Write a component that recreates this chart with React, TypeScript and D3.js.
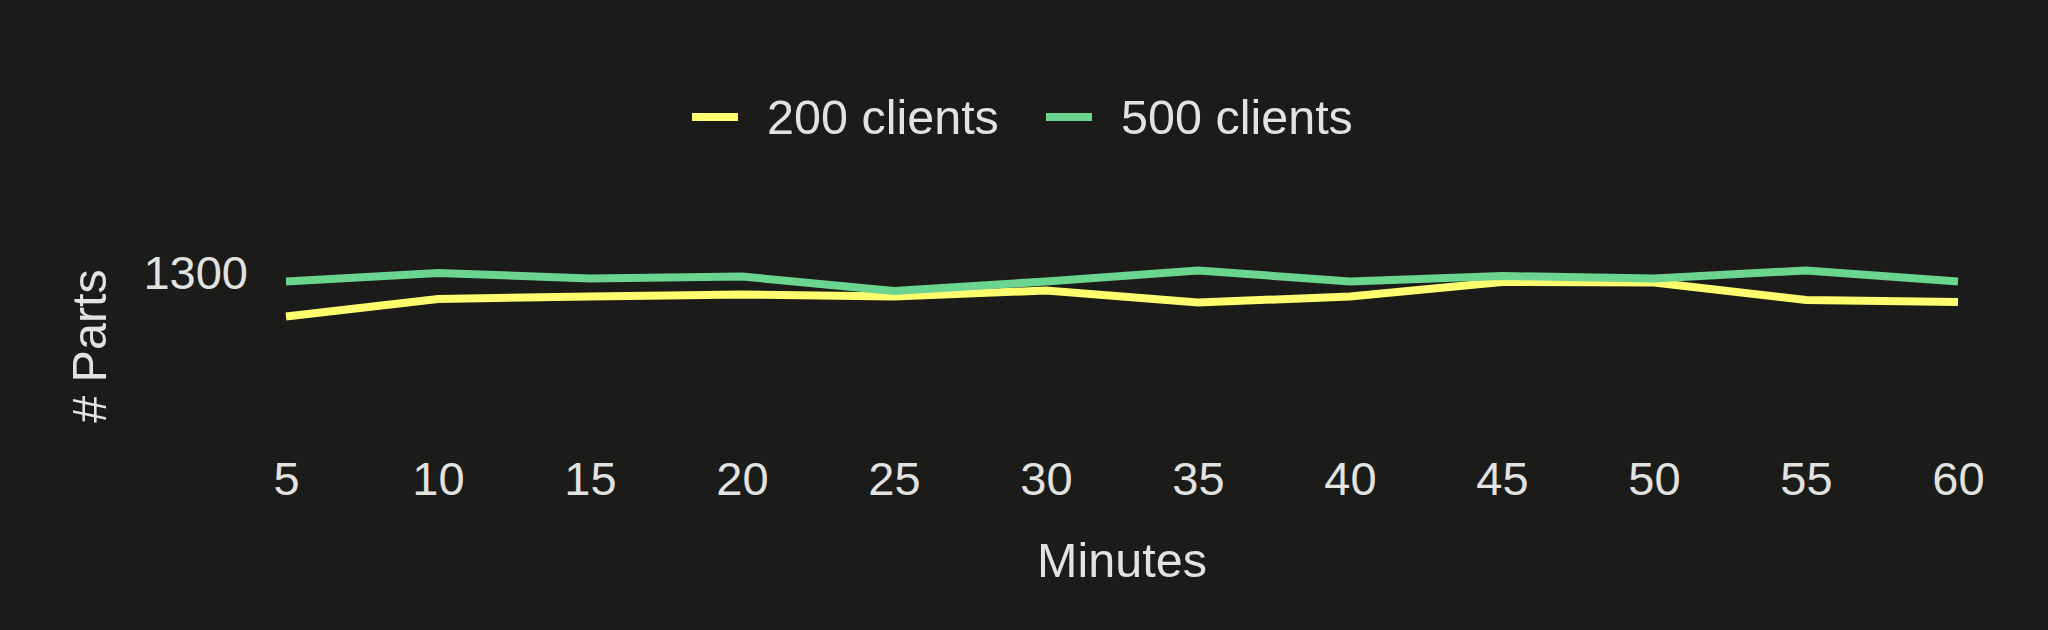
import React, { useEffect, useRef } from 'react';
import * as d3 from 'd3';

const minutes = [5, 10, 15, 20, 25, 30, 35, 40, 45, 50, 55, 60];
const clients200 = [1211, 1246, 1251, 1255, 1251, 1263, 1239, 1251, 1280, 1279, 1244, 1240];
const clients500 = [1281, 1298, 1287, 1291, 1262, 1281, 1303, 1281, 1292, 1287, 1303, 1281];
const yTicks = [1300];
const seriesNames = ['200 clients', '500 clients'];
const seriesColors = ['#fdfd6e', '#6bd48f'];

const WIDTH = 2048;
const HEIGHT = 630;

export default function App() {
  const svgRef = useRef<SVGSVGElement>(null);

  useEffect(() => {
    document.body.style.margin = '0';
    document.body.style.background = '#1b1b19';

    const svg = d3.select(svgRef.current);
    svg.selectAll('*').remove();

    const font = '"Liberation Sans", Arial, sans-serif';
    const textColor = '#e2e2e0';
    const tickSize = 47;
    const labelSize = 48.5;

    svg.append('rect')
      .attr('width', WIDTH)
      .attr('height', HEIGHT)
      .attr('fill', '#1b1b19');

    // Scales
    const xScale = d3.scaleLinear()
      .domain([5, 60])
      .range([286, 1958]);

    const yScale = d3.scaleLinear()
      .domain([1100, 1400])
      .range([372, 222]);

    const series = [clients200, clients500];

    const line = d3.line<number>()
      .x((_, i) => xScale(minutes[i]))
      .y(d => yScale(d));

    series.forEach((values, i) => {
      svg.append('path')
        .datum(values)
        .attr('fill', 'none')
        .attr('stroke', seriesColors[i])
        .attr('stroke-width', 8)
        .attr('stroke-linejoin', 'miter')
        .attr('d', line);
    });

    // X axis
    const xAxis = svg.append('g')
      .attr('transform', 'translate(0,460)')
      .call(d3.axisBottom(xScale).tickValues(minutes).tickSize(0).tickPadding(0).tickFormat(d3.format('d')));
    xAxis.select('.domain').remove();
    xAxis.selectAll('text')
      .attr('y', 0)
      .attr('dy', '0.75em')
      .style('font-family', font)
      .style('font-size', `${tickSize}px`)
      .attr('fill', textColor);

    // Y axis
    const yAxis = svg.append('g')
      .attr('transform', 'translate(248,0)')
      .call(d3.axisLeft(yScale).tickValues(yTicks).tickSize(0).tickPadding(0).tickFormat(d3.format('d')));
    yAxis.select('.domain').remove();
    yAxis.selectAll('text')
      .attr('dy', '0.35em')
      .style('font-family', font)
      .style('font-size', `${tickSize}px`)
      .attr('fill', textColor);

    // Axis titles
    svg.append('text')
      .attr('x', (xScale.range()[0] + xScale.range()[1]) / 2)
      .attr('y', 577)
      .attr('text-anchor', 'middle')
      .style('font-family', font)
      .style('font-size', `${labelSize}px`)
      .attr('fill', textColor)
      .text('Minutes');

    svg.append('text')
      .attr('transform', 'translate(106,346) rotate(-90)')
      .attr('text-anchor', 'middle')
      .style('font-family', font)
      .style('font-size', `${labelSize}px`)
      .attr('fill', textColor)
      .text('# Parts');

    // Legend
    const legend = svg.append('g').attr('transform', 'translate(692,134)');
    const itemX = [0, 354];
    seriesNames.forEach((name, i) => {
      const item = legend.append('g').attr('transform', `translate(${itemX[i]},0)`);
      item.append('rect')
        .attr('x', 0)
        .attr('y', -21)
        .attr('width', 46)
        .attr('height', 8)
        .attr('fill', seriesColors[i]);
      item.append('text')
        .attr('x', 75)
        .attr('y', 0)
        .style('font-family', font)
        .style('font-size', `${labelSize}px`)
        .attr('fill', textColor)
        .text(name);
    });
  }, []);

  return <svg ref={svgRef} width={WIDTH} height={HEIGHT} style={{ display: 'block' }} />;
}
